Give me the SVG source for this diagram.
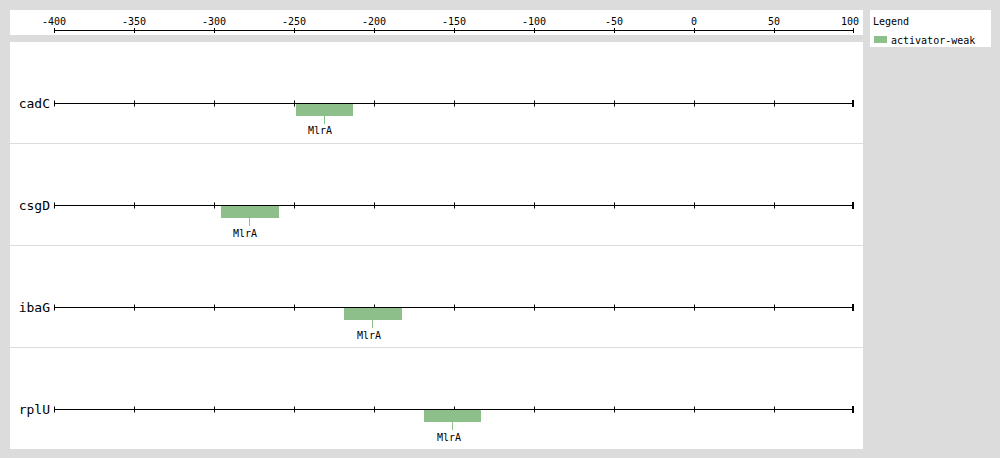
<svg xmlns="http://www.w3.org/2000/svg" width="1000" height="458" viewBox="0 0 1000 458">
<style>
.t{font-family:"DejaVu Sans Mono","Liberation Mono",monospace;font-size:10px;fill:#000}
.g{font-family:"DejaVu Sans Mono","Liberation Mono",monospace;font-size:13px;fill:#000}
.ln{stroke:#000;stroke-width:1;fill:none}
.box{fill:#8dbf8a}
.stem{stroke:#8dbf8a;stroke-width:1}
.sep{stroke:#dcdcdc;stroke-width:1}
</style>
<defs>
<g id="ticks">
<path class="ln" d="M54.5,-3V3M134.5,-3V3M214.5,-3V3M294.5,-3V3M374.5,-3V3M454.5,-3V3M534.5,-3V3M614.5,-3V3M694.5,-3V3M774.5,-3V3"/>
</g>
</defs>
<rect width="1000" height="458" fill="#dcdcdc"/>
<g id="axis">
<rect x="10" y="10" width="853" height="25" fill="#fff"/>
<path class="ln" d="M54,30.5H854M54.5,28V33M134.5,28V33M214.5,28V33M294.5,28V33M374.5,28V33M454.5,28V33M534.5,28V33M614.5,28V33M694.5,28V33M774.5,28V33M853.5,28V33"/>
<g class="t" text-anchor="middle">
<text x="54" y="25">-400</text><text x="134" y="25">-350</text><text x="214" y="25">-300</text><text x="294" y="25">-250</text><text x="374" y="25">-200</text><text x="454" y="25">-150</text><text x="534" y="25">-100</text><text x="614" y="25">-50</text><text x="694" y="25">0</text><text x="774" y="25">50</text><text x="850" y="25">100</text>
</g>
</g>
<g id="legend">
<rect x="870" y="10" width="121" height="37" fill="#fff"/>
<text class="t" x="873" y="25">Legend</text>
<rect class="box" x="874" y="36" width="13" height="7"/>
<text class="t" x="891" y="44">activator-weak</text>
</g>
<rect x="10" y="42" width="853" height="407" fill="#fff"/>
<g id="separators">
<path class="sep" d="M10,143.5H863M10,245.5H863M10,347.5H863"/>
</g>
<g id="row-cadC">
<text class="g" x="50" y="108" text-anchor="end">cadC</text>
<path class="ln" d="M54,103.5H854"/>
<use href="#ticks" y="103.5"/>
<rect x="852" y="100" width="2" height="7"/>
<rect class="box" x="296" y="104" width="57" height="12"/>
<path class="stem" d="M324.5,116V124"/>
<text class="t" x="308" y="134">MlrA</text>
</g>
<g id="row-csgD">
<text class="g" x="50" y="210" text-anchor="end">csgD</text>
<path class="ln" d="M54,205.5H854"/>
<use href="#ticks" y="205.5"/>
<rect x="852" y="202" width="2" height="7"/>
<rect class="box" x="221" y="206" width="58" height="12"/>
<path class="stem" d="M249.5,218V226"/>
<text class="t" x="233" y="237">MlrA</text>
</g>
<g id="row-ibaG">
<text class="g" x="50" y="312" text-anchor="end">ibaG</text>
<path class="ln" d="M54,307.5H854"/>
<use href="#ticks" y="307.5"/>
<rect x="852" y="304" width="2" height="7"/>
<rect class="box" x="344" y="308" width="58" height="12"/>
<path class="stem" d="M372.5,320V328"/>
<text class="t" x="357" y="339">MlrA</text>
</g>
<g id="row-rplU">
<text class="g" x="50" y="414" text-anchor="end">rplU</text>
<path class="ln" d="M54,409.5H854"/>
<use href="#ticks" y="409.5"/>
<rect x="852" y="406" width="2" height="7"/>
<rect class="box" x="424" y="410" width="57" height="12"/>
<path class="stem" d="M452.5,422V430"/>
<text class="t" x="437" y="441">MlrA</text>
</g>
</svg>
